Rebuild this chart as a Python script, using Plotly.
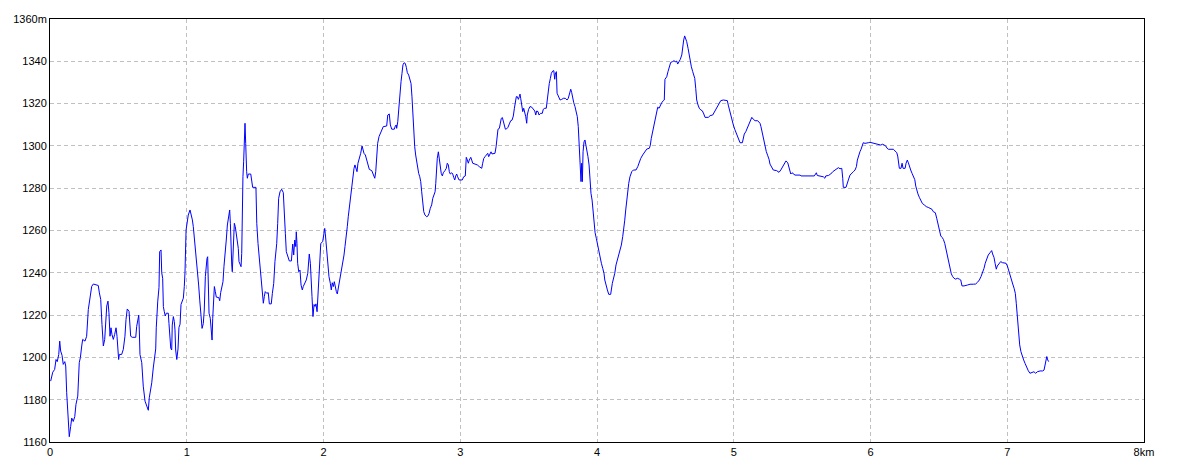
import plotly.graph_objects as go

dist_km = [
0.005,0.012,0.020,0.034,0.044,0.053,0.064,0.071,0.078,0.088,0.097,0.108,0.115,0.122,0.129,0.141,0.151,0.159,0.170,0.181,
0.190,0.203,0.214,0.222,0.232,0.239,0.256,0.268,0.280,0.293,0.305,0.317,0.353,0.361,0.371,0.380,0.390,0.400,0.410,0.415,
0.424,0.431,0.439,0.446,0.453,0.463,0.473,0.483,0.490,0.497,0.502,0.507,0.524,0.536,0.548,0.556,0.565,0.578,0.585,0.590,
0.602,0.627,0.634,0.641,0.649,0.653,0.658,0.671,0.682,0.695,0.707,0.719,0.726,0.744,0.755,0.768,0.773,0.777,0.780,0.788,
0.797,0.802,0.812,0.817,0.824,0.829,0.836,0.843,0.851,0.865,0.870,0.875,0.883,0.890,0.894,0.902,0.909,0.914,0.919,0.927,
0.936,0.943,0.951,0.958,0.967,0.975,0.982,0.987,0.995,1.002,1.011,1.024,1.031,1.041,1.048,1.055,1.063,1.073,1.080,1.087,
1.095,1.102,1.106,1.112,1.121,1.128,1.136,1.143,1.148,1.153,1.158,1.163,1.172,1.177,1.185,1.190,1.197,1.202,1.209,1.216,
1.234,1.241,1.248,1.258,1.265,1.272,1.282,1.289,1.297,1.307,1.314,1.319,1.324,1.329,1.333,1.340,1.348,1.355,1.362,1.370,
1.377,1.382,1.389,1.397,1.402,1.406,1.411,1.416,1.421,1.426,1.431,1.433,1.438,1.443,1.450,1.468,1.475,1.482,1.506,1.512,
1.521,1.531,1.538,1.545,1.553,1.560,1.567,1.574,1.585,1.596,1.604,1.618,1.626,1.636,1.645,1.658,1.665,1.672,1.682,1.694,
1.706,1.713,1.721,1.728,1.740,1.750,1.765,1.770,1.775,1.782,1.790,1.797,1.801,1.806,1.811,1.819,1.828,1.836,1.845,1.852,
1.865,1.874,1.885,1.892,1.896,1.904,1.909,1.916,1.923,1.931,1.938,1.945,1.953,1.960,1.967,1.972,1.980,1.994,2.001,2.009,
2.013,2.021,2.031,2.040,2.050,2.057,2.064,2.072,2.079,2.086,2.094,2.101,2.111,2.121,2.130,2.141,2.150,2.157,2.167,2.174,
2.181,2.189,2.199,2.206,2.214,2.223,2.230,2.238,2.245,2.252,2.262,2.272,2.282,2.289,2.296,2.306,2.316,2.326,2.335,2.353,
2.364,2.375,2.382,2.389,2.396,2.406,2.415,2.426,2.437,2.462,2.470,2.481,2.489,2.499,2.518,2.525,2.532,2.535,2.543,2.550,
2.559,2.567,2.574,2.581,2.589,2.598,2.606,2.613,2.623,2.631,2.640,2.647,2.652,2.660,2.667,2.674,2.682,2.689,2.696,2.704,
2.711,2.718,2.726,2.733,2.742,2.755,2.764,2.772,2.781,2.791,2.799,2.808,2.816,2.821,2.825,2.832,2.840,2.847,2.854,2.861,
2.869,2.876,2.888,2.898,2.905,2.913,2.920,2.927,2.938,2.945,2.952,2.960,2.967,2.974,2.981,2.991,3.015,3.025,3.037,3.044,
3.052,3.059,3.066,3.077,3.084,3.091,3.108,3.125,3.139,3.157,3.164,3.172,3.181,3.191,3.201,3.208,3.218,3.225,3.232,3.242,
3.254,3.262,3.269,3.276,3.286,3.293,3.300,3.308,3.315,3.322,3.330,3.340,3.349,3.359,3.369,3.379,3.388,3.396,3.403,3.410,
3.417,3.425,3.432,3.437,3.442,3.450,3.457,3.464,3.471,3.479,3.486,3.490,3.500,3.510,3.523,3.534,3.545,3.552,3.559,3.569,
3.576,3.588,3.600,3.607,3.618,3.629,3.637,3.644,3.651,3.659,3.666,3.676,3.684,3.691,3.695,3.703,3.708,3.717,3.730,3.742,
3.754,3.768,3.781,3.790,3.800,3.808,3.815,3.822,3.830,3.839,3.849,3.856,3.863,3.871,3.878,3.883,3.888,3.893,3.898,3.905,
3.912,3.920,3.927,3.934,3.942,3.949,3.956,3.964,3.971,3.978,3.986,3.995,4.002,4.013,4.022,4.032,4.042,4.051,4.057,4.064,
4.076,4.086,4.100,4.112,4.122,4.130,4.139,4.149,4.159,4.168,4.178,4.188,4.195,4.203,4.210,4.217,4.225,4.232,4.241,4.254,
4.266,4.285,4.298,4.307,4.320,4.334,4.349,4.364,4.383,4.390,4.397,4.407,4.417,4.427,4.437,4.444,4.454,4.463,4.473,4.485,
4.492,4.497,4.510,4.519,4.529,4.539,4.551,4.563,4.573,4.583,4.590,4.600,4.609,4.620,4.627,4.634,4.641,4.649,4.656,4.666,
4.673,4.682,4.690,4.700,4.707,4.715,4.722,4.729,4.739,4.748,4.759,4.770,4.781,4.790,4.814,4.827,4.846,4.856,4.865,4.878,
4.890,4.905,4.924,4.944,4.953,4.960,4.968,4.978,4.987,4.997,5.007,5.017,5.026,5.036,5.046,5.063,5.070,5.077,5.088,5.097,
5.107,5.117,5.132,5.143,5.156,5.175,5.192,5.199,5.209,5.219,5.229,5.238,5.249,5.258,5.265,5.277,5.289,5.314,5.331,5.344,
5.355,5.368,5.382,5.395,5.402,5.409,5.417,5.426,5.436,5.448,5.485,5.492,5.589,5.597,5.604,5.611,5.624,5.655,5.666,5.673,
5.692,5.709,5.724,5.738,5.753,5.765,5.777,5.790,5.797,5.801,5.821,5.830,5.838,5.850,5.863,5.875,5.887,5.897,5.904,5.914,
5.923,5.931,5.938,5.947,5.960,5.972,5.984,5.996,6.010,6.025,6.040,6.057,6.075,6.089,6.099,6.111,6.121,6.131,6.167,6.180,
6.192,6.199,6.207,6.211,6.223,6.231,6.238,6.253,6.260,6.269,6.277,6.284,6.294,6.304,6.313,6.324,6.331,6.338,6.347,6.357,
6.367,6.379,6.393,6.408,6.426,6.440,6.450,6.459,6.474,6.484,6.494,6.503,6.514,6.523,6.533,6.543,6.552,6.562,6.569,6.576,
6.584,6.591,6.601,6.611,6.623,6.635,6.650,6.660,6.669,6.684,6.708,6.728,6.752,6.769,6.781,6.796,6.808,6.820,6.830,6.839,
6.850,6.861,6.874,6.886,6.893,6.903,6.911,6.920,6.927,6.940,6.952,6.964,6.978,6.991,7.001,7.011,7.020,7.030,7.040,7.050,
7.059,7.066,7.074,7.081,7.091,7.100,7.110,7.120,7.130,7.142,7.154,7.166,7.181,7.195,7.208,7.220,7.240,7.259,7.269,7.276,
7.284,7.289,7.296,7.303,
]

elev_m = [
1188.8,1191,1193,1194.3,1199,1198,1201.4,1207.7,1203,1201,1196.7,1198,1195.9,1183.3,1173,1162.5,1167.3,1171.3,1169.7,1172,
1177.8,1181.7,1197.5,1199.9,1205.4,1208.5,1207.7,1210,1222.6,1228.9,1233.6,1234.7,1234,1230.5,1227.4,1215.6,1205.4,1208.5,1218,1224.3,
1226.6,1221.1,1210,1214,1210.9,1208.5,1210.9,1214,1210,1203,1199,1201.4,1201.4,1203.8,1210,1218,1222.9,1221.8,1214.7,1210,
1209.5,1209.5,1214.7,1218.5,1220,1213,1201.4,1197.5,1186.4,1179.3,1177,1175,1180.9,1188,1195,1200,1204,1214,1220,1226.6,
1233,1250,1250.8,1240,1237.4,1224,1221.6,1219.6,1220.9,1220.9,1216,1208.2,1204.3,1203.5,1215.3,1219.3,1217,1213,1203.5,1199,
1204,1214.2,1215.7,1225,1226.6,1228,1233.5,1240,1260.2,1264.2,1267.3,1269.7,1268.1,1265,1261.8,1257,1252.4,1246.8,1241.3,1234.2,
1227.1,1220.9,1216,1213.7,1216,1222.4,1238.2,1245.3,1246.8,1247.6,1227.1,1220.9,1218.5,1212.2,1208.2,1218.5,1225.6,1233.5,1231.1,1228.5,
1228.3,1226.8,1230.6,1233.5,1235.8,1242.9,1249.2,1255.5,1262.6,1267.3,1269.7,1263.4,1247.6,1243.7,1240.5,1253.9,1263.4,1261.8,1258.7,1253.1,
1251.5,1245.3,1243.7,1242.9,1249.2,1274.4,1285.4,1292.5,1303.6,1310.7,1301.2,1291.8,1287.8,1284.7,1286.7,1286.7,1283.1,1280.4,1280.4,1263.4,
1253.9,1246,1240.5,1236.6,1230.3,1225.6,1228.7,1231.1,1230.3,1230.6,1225.3,1225.3,1230.3,1235,1245.3,1253.9,1263.4,1275.2,1278.3,1279.5,
1277.9,1271.2,1258.7,1250,1247.6,1245.6,1245.6,1250,1253.6,1248.4,1255.5,1252.4,1259.4,1253.9,1244.5,1240.5,1241.3,1234.2,1231.9,1233.5,
1235,1236.6,1239.8,1244.5,1248.9,1244.5,1233.5,1228.7,1219.3,1225,1224.1,1225.3,1221.6,1231.9,1239.8,1248.4,1253.9,1254.7,1257,1261,
1258.7,1252.4,1243.7,1238.2,1235,1231.9,1235.3,1233.5,1235.8,1232.7,1231.1,1230,1233.5,1236.6,1240.5,1245.3,1248.4,1252.4,1257,1261.8,
1266.5,1271.2,1276,1279.1,1285.4,1289.4,1291,1289.4,1287.8,1291.8,1294.1,1296.5,1300,1298.1,1296.5,1295.7,1293.3,1291,1288.9,1288.3,
1286.2,1284.7,1287.8,1296.5,1301.2,1304.4,1306,1307.9,1309.1,1309.4,1314.6,1315.1,1309.9,1307.9,1307.9,1309.4,1309.9,1308.3,1311.4,1317,
1326.4,1330.4,1334.3,1338.3,1339.3,1339,1337.1,1334.6,1333.5,1331.9,1329.5,1323.2,1317,1304.4,1299.6,1295.7,1292.5,1288.6,1287,1285.4,
1283.1,1278.3,1271.3,1268.9,1267.3,1266.5,1266.9,1268.1,1270.5,1272.1,1275.2,1277.6,1278.3,1282.3,1289.4,1294.1,1297.2,1293.3,1289.4,1287,
1285.8,1287.3,1288.3,1289.4,1291.8,1291,1287.8,1286.7,1287.3,1286.7,1285.1,1283.9,1285.8,1286.7,1285.4,1283.9,1283.9,1285.4,1285.8,1294.6,
1293.3,1291.8,1293.3,1294.6,1293.3,1291.8,1291.4,1291,1290.2,1289.4,1291.8,1294.1,1294.9,1295.7,1296.5,1294.9,1296.8,1297.2,1296.2,1296.5,
1296.5,1299.6,1305.2,1307.9,1308.3,1311,1313,1313.4,1311.9,1310.4,1307.9,1308.1,1308.8,1310.4,1311.9,1312.2,1314.1,1317.8,1322,1323.3,
1323.3,1322,1323.3,1324.5,1322.5,1318.6,1316.2,1317.8,1316.2,1313.8,1310.7,1314.6,1317.3,1318.6,1318.3,1317.3,1316.5,1314.6,1316.5,1316.2,
1314.6,1315.4,1315.4,1317.3,1317.8,1317.8,1322.5,1326.1,1329.5,1331.9,1334.3,1335.4,1335.6,1331.5,1334,1335.1,1324.9,1323.6,1321.7,1322,
1322.5,1322.5,1321.7,1322.5,1325.2,1326.8,1325.2,1322.5,1320.4,1318.6,1316.2,1313.8,1309.1,1298.1,1287.8,1283.1,1291.8,1283.1,1297.2,1301.9,
1302.8,1300.4,1298.1,1294.9,1291,1283.1,1277.6,1274.4,1269.7,1263.4,1259,1256.3,1253.9,1250,1246.9,1244.5,1242.1,1239.8,1236.6,1234.2,
1231.9,1229.8,1229.8,1235,1237.4,1239.8,1243.7,1246.1,1248.4,1250.8,1253.1,1257.1,1260.2,1264.9,1269.7,1274.4,1279.5,1282.3,1285.4,1287.8,
1288.6,1288.6,1290.2,1292.1,1294.1,1295.7,1297.3,1298.5,1298.9,1300.4,1303.6,1306.7,1309.1,1312.2,1316.2,1318.3,1317.8,1319.3,1320.4,1321.4,
1321.7,1331.5,1332.7,1335.1,1337.2,1339.5,1339.8,1340.3,1339.8,1340.1,1338.7,1339.8,1340.9,1343,1347.7,1350.1,1352,1350.9,1349.3,1346.1,
1343,1339.8,1337.4,1335.1,1333.5,1331.9,1327.2,1321.7,1319.3,1317.8,1317,1316.6,1315.1,1313.5,1313.5,1314.3,1314.6,1315.7,1317.3,1318.8,
1320.1,1321.4,1321.7,1321.7,1321.4,1319.3,1317,1314.6,1312.2,1309.9,1307.9,1306,1304.4,1302.8,1301.5,1301.5,1303.6,1305.6,1306.7,1308.3,
1309.9,1311.4,1313.5,1312.6,1311.9,1311.9,1310.7,1309.1,1306,1302.8,1299.6,1297.3,1295.3,1293.7,1291.4,1289.9,1288.6,1288.3,1287.5,1288.6,
1289.9,1291.4,1292.9,1292,1290.2,1287.8,1286.7,1287.3,1286.7,1286.2,1286.2,1285.8,1285.8,1286.7,1287.3,1286,1285.8,1285.4,1284.7,1285.8,
1286,1286.7,1287.8,1288.6,1289.1,1289.7,1289.2,1289.4,1284.7,1280.4,1280.4,1281.8,1283.9,1286.2,1287.3,1287.8,1288.6,1290.2,1293.3,1295.7,
1297.3,1298.4,1300.4,1301.5,1301.2,1301.2,1301.5,1301.7,1301.5,1301.2,1300.9,1300.8,1300.4,1300.8,1300.3,1300,1298.9,1298.4,1298.4,1297.6,
1296.8,1295.2,1292.5,1289.4,1289.4,1291.8,1289.4,1289.4,1291.8,1293.3,1292,1290.1,1288.6,1287,1285.6,1284,1281,1278.8,1277.3,1275.7,
1274.5,1272.8,1272.1,1271.3,1270.8,1270.5,1270,1268.9,1268.4,1265.8,1262.6,1259.4,1257.4,1256.8,1255.8,1253.9,1251.1,1248.9,1246.4,1243.7,
1241.1,1239.5,1238.2,1237.4,1237,1237.4,1237,1236.6,1233.8,1233.8,1234.2,1234.6,1234.6,1234.7,1235.4,1236.6,1238.2,1240.1,1242.1,1244.5,
1246.4,1248.4,1249.5,1250.5,1248.9,1247.3,1244.5,1241.7,1243.2,1244.5,1245.3,1244.8,1244.5,1244.5,1243.2,1241.3,1239,1236.6,1234.7,1232.7,
1230.3,1225.6,1218.5,1210.6,1205.9,1202.7,1200.4,1198.8,1197.2,1194.9,1193.7,1192.5,1192.8,1193.2,1192.5,1193.2,1193.6,1193.6,1194,1196.4,
1198.8,1200.4,1198.8,1198,
]

x_ticks = [0, 1, 2, 3, 4, 5, 6, 7, 8]
x_tick_labels = ["0", "1", "2", "3", "4", "5", "6", "7", "8km"]
y_ticks = [1160, 1180, 1200, 1220, 1240, 1260, 1280, 1300, 1320, 1340, 1360]
y_tick_labels = ["1160", "1180", "1200", "1220", "1240", "1260", "1280", "1300", "1320", "1340", "1360m"]

fig = go.Figure()
fig.add_trace(go.Scatter(
    x=dist_km, y=elev_m, mode="lines",
    line=dict(color="#0000ff", width=1),
    hoverinfo="skip", showlegend=False,
))

axis_common = dict(
    showline=True, linecolor="black", linewidth=1, mirror=True,
    showgrid=True, gridcolor="#c0c0c0", gridwidth=1, griddash="4px,3px",
    zeroline=False, ticks="", tickfont=dict(family="Liberation Sans, Arial, sans-serif", size=11, color="black"),
)

fig.update_xaxes(range=[0, 8], tickmode="array", tickvals=x_ticks, ticktext=x_tick_labels, **axis_common)
fig.update_yaxes(range=[1160, 1360], tickmode="array", tickvals=y_ticks, ticktext=y_tick_labels, **axis_common)

# page body has an 8px default margin, so the figure is sized to fit the window
fig.update_layout(
    width=1176, height=465,
    margin=dict(l=42, r=40, t=11, b=31, autoexpand=False),
    paper_bgcolor="white", plot_bgcolor="white",
    hovermode=False,
)

fig.write_html("out.html")
